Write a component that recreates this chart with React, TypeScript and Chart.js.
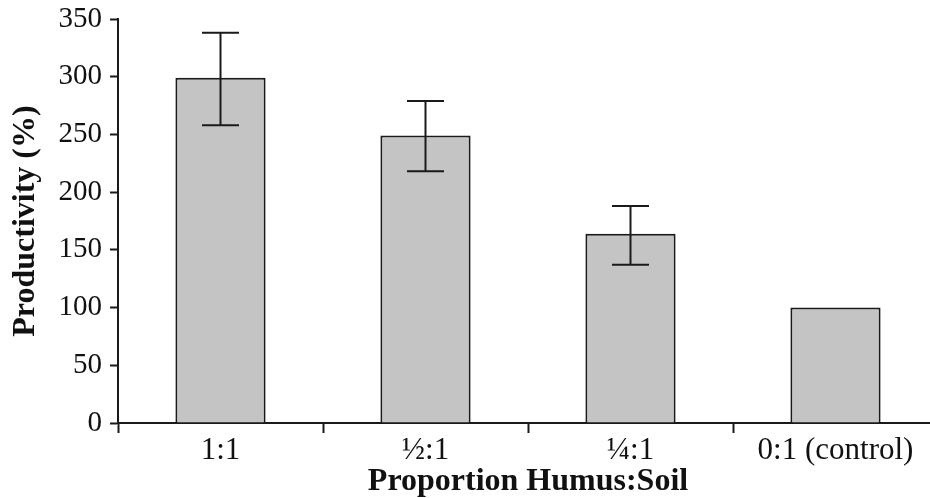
import React, { useEffect, useRef } from "react";
import { Chart, registerables } from "chart.js";
Chart.register(...registerables);

const categories = ["1:1", "½:1", "¼:1", "0:1 (control)"];
const productivity = [299, 249, 164, 100];
const errorLow: (number | null)[] = [258, 218, 137, null];
const errorHigh: (number | null)[] = [338, 279, 188, null];
const yMin = 0;
const yMax = 350;
const yStep = 50;

const SERIF = "'Liberation Serif', 'Times New Roman', serif";
const INK = "#1a1a1a";

const errorBarPlugin = {
  id: "errorBars",
  afterDatasetsDraw(chart: any) {
    const ctx = chart.ctx;
    const meta = chart.getDatasetMeta(0);
    const y = chart.scales.y;
    ctx.save();
    ctx.strokeStyle = INK;
    ctx.lineWidth = 2;
    meta.data.forEach((bar: any, i: number) => {
      const lo = errorLow[i];
      const hi = errorHigh[i];
      if (lo == null || hi == null) return;
      const x = bar.x;
      const half = bar.width * 0.205;
      const yl = y.getPixelForValue(lo);
      const yh = y.getPixelForValue(hi);
      ctx.beginPath();
      ctx.moveTo(x, yl);
      ctx.lineTo(x, yh);
      ctx.moveTo(x - half, yl);
      ctx.lineTo(x + half, yl);
      ctx.moveTo(x - half, yh);
      ctx.lineTo(x + half, yh);
      ctx.stroke();
    });
    ctx.restore();
  },
};

export default function App() {
  const ref = useRef<HTMLCanvasElement | null>(null);
  useEffect(() => {
    document.body.style.margin = "0";
    document.body.style.overflow = "hidden";
    if (!ref.current) return;
    const chart = new Chart(ref.current, {
      type: "bar",
      data: {
        labels: categories,
        datasets: [
          {
            data: productivity,
            backgroundColor: "#c4c4c4",
            borderColor: INK,
            borderWidth: 2,
            barPercentage: 0.44,
            categoryPercentage: 1.0,
          },
        ],
      },
      plugins: [errorBarPlugin],
      options: {
        animation: false,
        responsive: true,
        maintainAspectRatio: false,
        layout: { padding: { left: 0, right: 12, top: 19, bottom: 0 } },
        plugins: { legend: { display: false }, tooltip: { enabled: false } },
        scales: {
          x: {
            grid: {
              offset: true,
              drawOnChartArea: false,
              drawTicks: true,
              tickLength: 10,
              tickWidth: 2,
              tickColor: INK,
            },
            border: { display: true, color: INK, width: 2 },
            ticks: {
              color: "#111",
              padding: -1,
              font: { family: SERIF, size: 31 },
            },
            title: {
              display: true,
              text: "Proportion Humus:Soil",
              color: "#111",
              padding: { top: 0, bottom: -3 },
              font: { family: SERIF, size: 32, weight: "bold" },
            },
            afterFit(scale: any) {
              scale.height = 75;
            },
          },
          y: {
            min: yMin,
            max: yMax,
            grid: {
              drawOnChartArea: false,
              drawTicks: true,
              tickLength: 8,
              tickWidth: 2,
              tickColor: INK,
            },
            border: { display: true, color: INK, width: 2 },
            ticks: {
              stepSize: yStep,
              color: "#111",
              padding: 8,
              font: { family: SERIF, size: 29 },
            },
            title: {
              display: true,
              text: "Productivity (%)",
              color: "#111",
              padding: { top: 7, bottom: 0 },
              font: { family: SERIF, size: 32, weight: "bold" },
            },
            afterFit(scale: any) {
              scale.width = 118;
              scale.paddingTop = 0;
              scale.paddingBottom = 0;
            },
          },
        },
      },
    });
    return () => chart.destroy();
  }, []);
  return (
    <div style={{ position: "fixed", left: 0, top: 0, width: 930, height: 498, overflow: "hidden", background: "#fff" }}>
      <div style={{ position: "relative", width: 950, height: 498 }}>
        <canvas ref={ref} />
      </div>
    </div>
  );
}
